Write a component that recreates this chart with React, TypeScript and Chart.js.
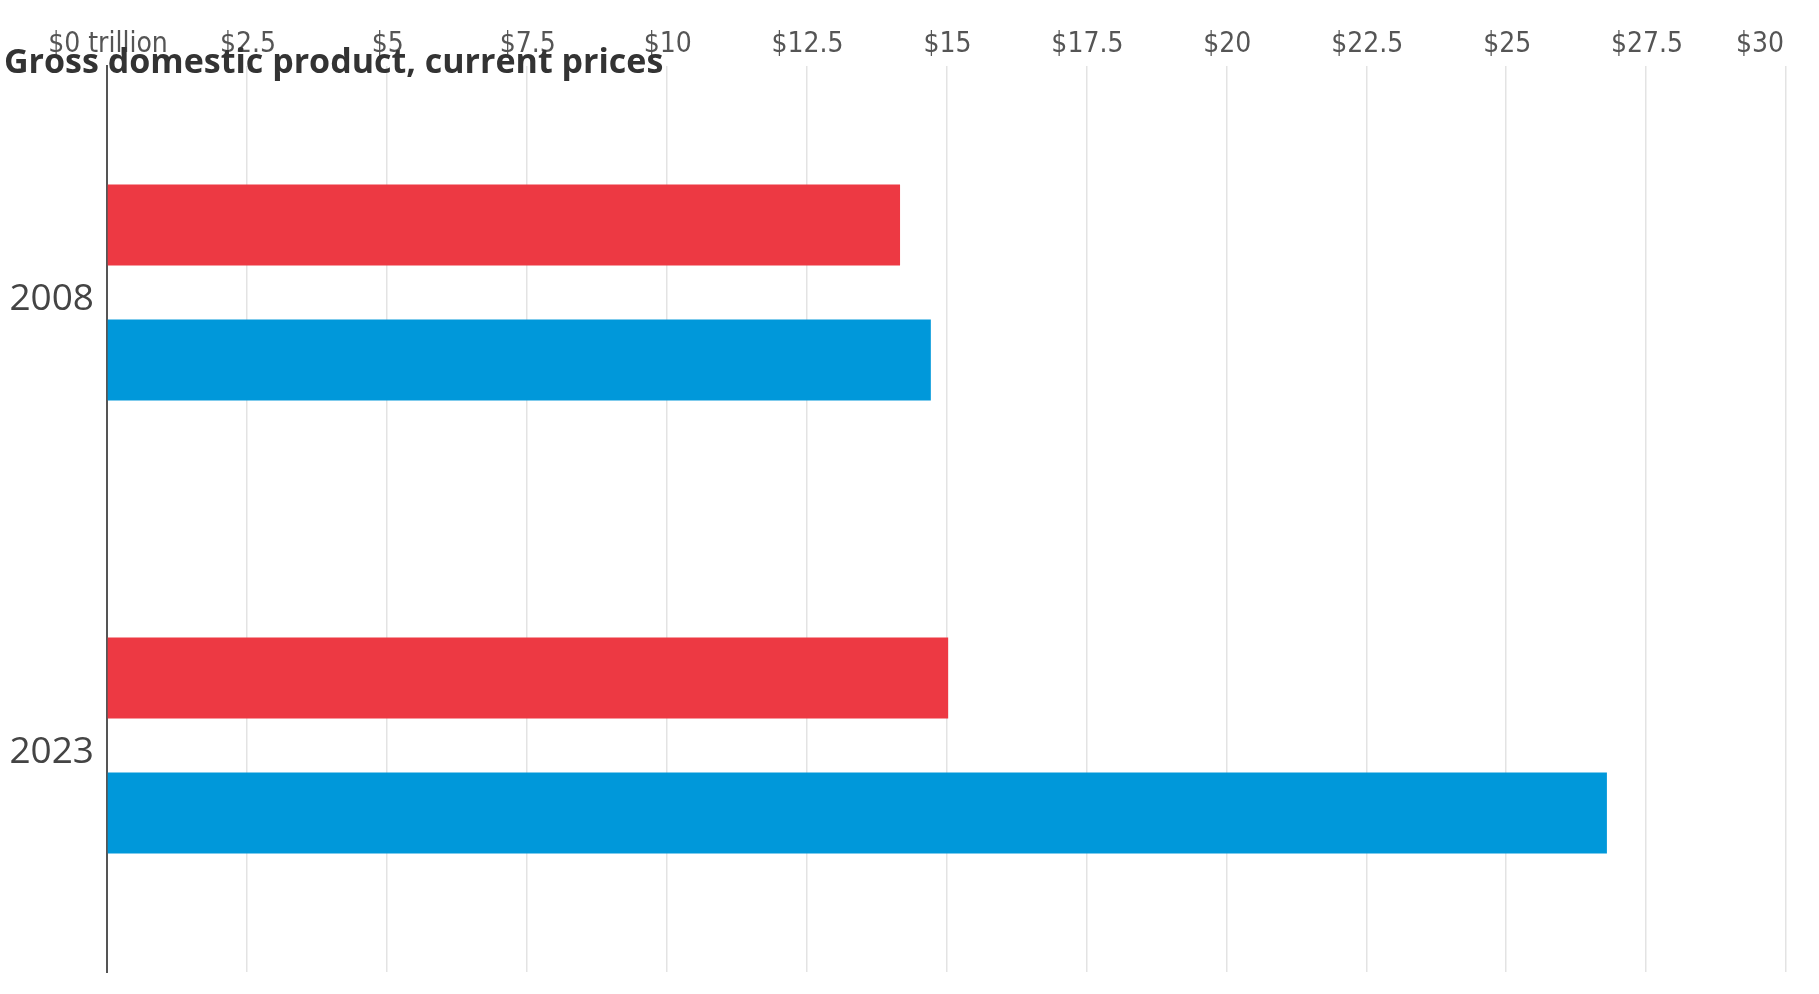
import React, { useEffect, useRef } from "react";
import { Chart, registerables } from "chart.js";

Chart.register(...registerables);

const categories = ["2008", "2023"];
const redSeriesName = "European Union";
const blueSeriesName = "United States";
const redValues = [14.17, 15.03];
const blueValues = [14.72, 26.8];
const tickMin = 0;
const tickMax = 30;
const tickStep = 2.5;
const titleText = "Gross domestic product, current prices";

const formatTick = (v: number) => (v === 0 ? "$0 trillion" : "$" + v);

const overlayPlugin = {
  id: "overlayText",
  afterDraw(chart: any) {
    const ctx = chart.ctx;
    const xs = chart.scales.x;
    ctx.save();
    // x tick labels
    ctx.font = "28px 'DejaVu Sans Condensed'";
    ctx.fillStyle = "#555555";
    ctx.textBaseline = "middle";
    const ticks = xs.ticks;
    ticks.forEach((t: any, i: number) => {
      const px = xs.getPixelForValue(t.value);
      const label = formatTick(t.value);
      if (i === ticks.length - 1) {
        ctx.textAlign = "right";
        ctx.fillText(label, px - 2, 45);
      } else {
        ctx.textAlign = "center";
        ctx.fillText(label, px + 1, 45);
      }
    });
    // title
    ctx.font = "bold 34px 'Open Sans'";
    ctx.fillStyle = "#333333";
    ctx.textBaseline = "alphabetic";
    ctx.textAlign = "left";
    ctx.fillText(titleText, 4, 73);
    ctx.restore();
  },
};

export default function App() {
  const canvasRef = useRef<HTMLCanvasElement | null>(null);

  useEffect(() => {
    if (!canvasRef.current) return;
    const chart = new Chart(canvasRef.current, {
      type: "bar",
      data: {
        labels: categories,
        datasets: [
          {
            label: redSeriesName,
            data: redValues,
            backgroundColor: "#ED3943",
            borderWidth: 0,
            categoryPercentage: 0.596,
            barPercentage: 0.6,
          },
          {
            label: blueSeriesName,
            data: blueValues,
            backgroundColor: "#0098DA",
            borderWidth: 0,
            categoryPercentage: 0.596,
            barPercentage: 0.6,
          },
        ],
      },
      options: {
        indexAxis: "y",
        animation: false,
        responsive: true,
        maintainAspectRatio: false,
        layout: { padding: { top: 0, left: 0, right: 33, bottom: 22 } },
        plugins: {
          legend: { display: false },
          tooltip: { enabled: false },
          title: { display: false },
        },
        scales: {
          x: {
            position: "top",
            min: tickMin,
            max: tickMax,
            afterFit: (axis: any) => {
              axis.height = 66;
              axis.paddingLeft = 0;
              axis.paddingRight = 0;
            },
            ticks: {
              stepSize: tickStep,
              display: false,
              autoSkip: false,
            },
            grid: {
              color: "#e3e3e3",
              lineWidth: 1.5,
              drawTicks: false,
            },
            border: { display: false },
          },
          y: {
            afterFit: (axis: any) => {
              axis.width = 107;
              axis.paddingTop = 0;
              axis.paddingBottom = 0;
            },
            ticks: {
              padding: 13,
              labelOffset: 7,
              color: "#444444",
              font: { family: "'Open Sans'", size: 37 },
            },
            grid: { display: false, drawTicks: false },
            border: { display: true, color: "#555555", width: 2 },
          },
        },
      },
      plugins: [overlayPlugin],
    });
    return () => chart.destroy();
  }, []);

  return (
    <div style={{ position: "absolute", left: 0, top: 0, width: "1819px", height: "994px", background: "#fff" }}>
      <canvas ref={canvasRef} />
    </div>
  );
}
